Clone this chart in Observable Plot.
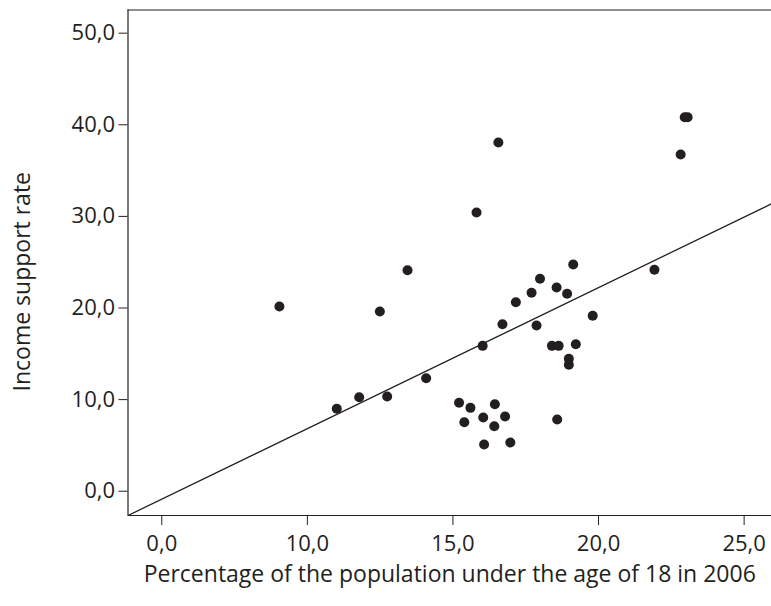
<!DOCTYPE html>
<html><head><meta charset="utf-8">
<script src="https://cdn.jsdelivr.net/npm/d3@7"></script>
<script src="https://cdn.jsdelivr.net/npm/@observablehq/plot@0.6"></script>
<style>
html,body{margin:0;padding:0;background:#fff;overflow:hidden}
</style></head><body><div id="chart"></div>
<script>
// Scatter values (x in axis display units; the axis has a break so its first tick "0,0" sits at 5)
const xValues = [9.04, 11.01, 11.78, 12.49, 12.74, 13.44, 14.08, 15.21, 15.39, 15.60,
  15.81, 16.02, 16.04, 16.07, 16.44, 16.42, 16.56, 16.70, 16.79, 16.97,
  17.16, 17.70, 17.87, 17.99, 18.40, 18.56, 18.58, 18.63, 18.92, 18.98,
  18.98, 19.13, 19.22, 19.80, 21.92, 22.82, 22.96, 23.06];
const yValues = [20.16, 9.00, 10.26, 19.62, 10.34, 24.13, 12.34, 9.65, 7.53, 9.10,
  30.43, 15.87, 8.05, 5.10, 9.50, 7.10, 38.07, 18.23, 8.16, 5.32,
  20.63, 21.66, 18.09, 23.19, 15.87, 22.24, 7.83, 15.87, 21.55, 14.45,
  13.80, 24.75, 16.05, 19.15, 24.17, 36.76, 40.83, 40.83];
const xTickValues = [5, 10, 15, 20, 25];
const xTickLabels = ["0,0", "10,0", "15,0", "20,0", "25,0"];
const yTickValues = [0, 10, 20, 30, 40, 50];
const yTickLabels = ["0,0", "10,0", "20,0", "30,0", "40,0", "50,0"];
const xTitle = "Percentage of the population under the age of 18 in 2006";
const yTitle = "Income support rate";
const fitIntercept = -8.563;
const fitSlope = 1.5395;

const points = xValues.map((x, i) => ({x, y: yValues[i]}));
const xDomain = [3.84, 25.94];
const yDomain = [-2.65, 52.53];
const ink = "#231f20";
const tickFs = 22;
const titleFs = 23;

const chart = Plot.plot({
  width: 771, height: 606,
  marginLeft: 127.5, marginTop: 9.5, marginRight: 0, marginBottom: 91,
  style: {fontFamily: "'Open Sans', sans-serif", fontSize: tickFs + "px", color: ink, background: "white"},
  x: {domain: xDomain, label: null},
  y: {domain: yDomain, label: null},
  marks: [
    Plot.ruleY([yDomain[1]], {stroke: ink, strokeWidth: 1.2}),
    Plot.ruleY([yDomain[0]], {stroke: ink, strokeWidth: 1.2}),
    Plot.ruleX([xDomain[0]], {stroke: ink, strokeWidth: 1.2}),
    Plot.axisX(xTickValues, {tickSize: 10, tickPadding: 10, stroke: ink, fill: ink, fontSize: tickFs,
      tickFormat: d => xTickLabels[xTickValues.indexOf(d)], label: null}),
    Plot.axisY(yTickValues, {tickSize: 9, tickPadding: 4, stroke: ink, fill: ink, fontSize: tickFs,
      tickFormat: d => yTickLabels[yTickValues.indexOf(d)], label: null}),
    Plot.line(xDomain, {x: d => d, y: d => fitIntercept + fitSlope * d, stroke: ink, strokeWidth: 1.3, clip: true}),
    Plot.dot(points, {x: "x", y: "y", r: 5, fill: ink, stroke: "none"}),
    Plot.text([yTitle], {frameAnchor: "left", dx: -105, dy: 19, rotate: -90, textAnchor: "middle", fontSize: titleFs, fill: ink}),
    Plot.text([xTitle], {frameAnchor: "bottom", dy: 66, textAnchor: "middle", fontSize: titleFs, fill: ink})
  ]
});
document.getElementById("chart").appendChild(chart);
</script>
</body></html>
